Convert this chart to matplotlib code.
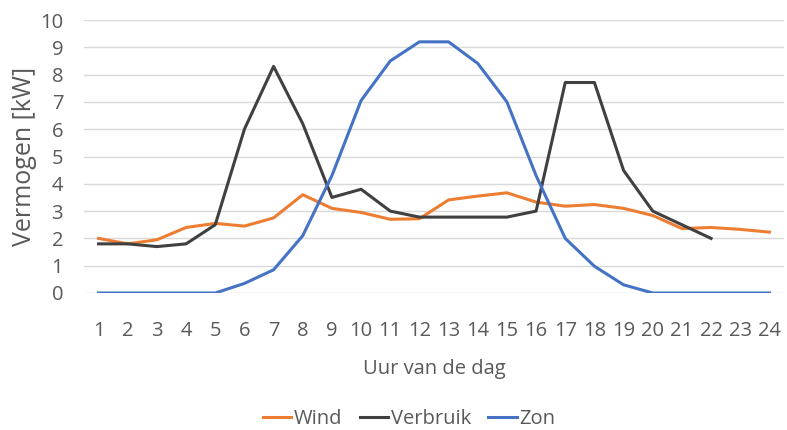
import matplotlib
matplotlib.use('Agg')
import matplotlib.pyplot as plt

plt.rcParams['font.family'] = ['Open Sans', 'DejaVu Sans']

uren = list(range(1, 25))
wind = [2.0, 1.8, 1.95, 2.4, 2.55, 2.45, 2.75, 3.6, 3.1, 2.95, 2.7, 2.72,
        3.41, 3.55, 3.67, 3.33, 3.18, 3.24, 3.1, 2.84, 2.36, 2.4, 2.33, 2.23]
verbruik = [1.8, 1.8, 1.7, 1.8, 2.5, 6.0, 8.3, 6.2, 3.5, 3.8, 3.0, 2.78,
            2.78, 2.78, 2.78, 3.0, 7.71, 7.71, 4.49, 3.0, 2.5, 2.0]
zon = [0, 0, 0, 0, 0, 0.35, 0.85, 2.1, 4.3, 7.05, 8.5, 9.2,
       9.2, 8.41, 7.0, 4.3, 2.0, 0.98, 0.3, 0, 0, 0, 0, 0]

grijs = '#595959'

fig = plt.figure(figsize=(7.87, 4.30), dpi=100)
ax = fig.add_axes([84 / 787, 1 - 293 / 430, 700 / 787, 273 / 430])

ax.plot(uren, wind, color='#ED7D31', lw=2.2, label='Wind')
ax.plot(uren[:len(verbruik)], verbruik, color='#404040', lw=2.2, label='Verbruik')
ax.plot(uren, zon, color='#4472C4', lw=2.2, label='Zon')

ax.set_xlim(0.5, 24.5)
ax.set_ylim(0, 10)
ax.set_xticks(uren)
ax.set_yticks(range(0, 11))
ax.grid(axis='y', color='#d9d9d9', lw=1)
ax.set_axisbelow(True)
for s in ax.spines.values():
    s.set_visible(False)
ax.tick_params(length=0, labelsize=14.5, colors=grijs)
ax.tick_params(axis='x', pad=20)
ax.tick_params(axis='y', pad=15)

ax.set_xlabel('Uur van de dag', fontsize=14.5, color=grijs, labelpad=13)
ax.set_ylabel('Vermogen [kW]', fontsize=18, color=grijs, labelpad=2)

fig.legend(loc='center', bbox_to_anchor=(0.52, 1 - 419 / 430), ncol=3, frameon=False,
           fontsize=14.5, labelcolor=grijs, handlelength=1.4, handletextpad=0.15,
           columnspacing=0.85)

fig.savefig('out.png', dpi=100)
